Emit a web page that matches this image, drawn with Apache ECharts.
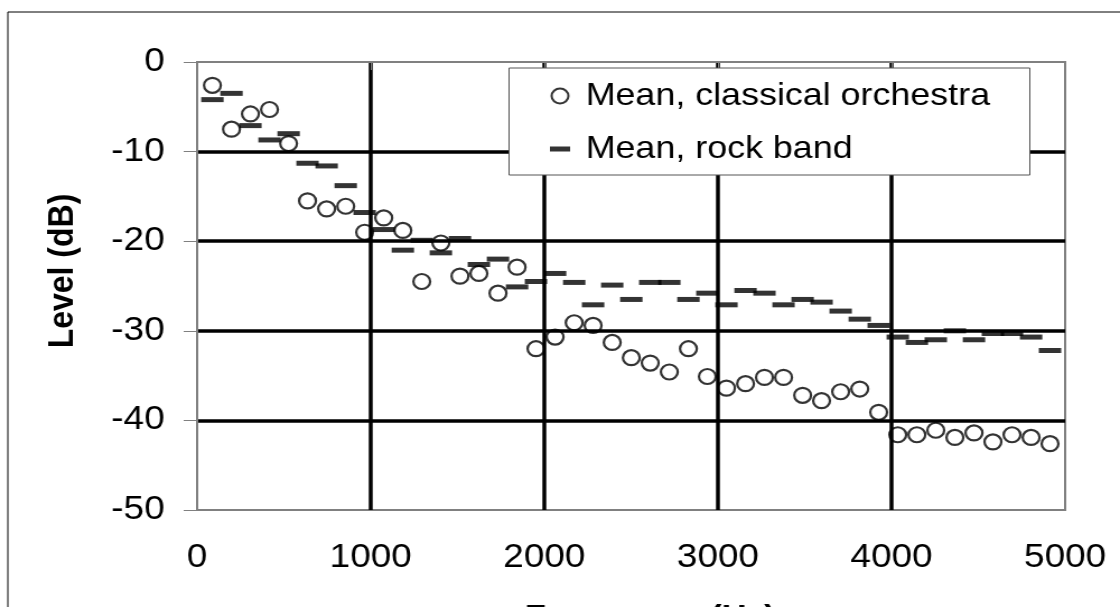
<!DOCTYPE html>
<html>
<head>
<meta charset="utf-8">
<script src="https://cdn.jsdelivr.net/npm/echarts@6/dist/echarts.min.js"></script>
<style>
  html, body { margin: 0; padding: 0; background: #fff; overflow: hidden; }
  /* the reference is stretched sideways, so the chart is drawn narrower and widened */
  #main { width: 1000px; height: 607px; transform: scaleX(1.12); transform-origin: 0 0; }
</style>
</head>
<body>
<div id="main"></div>
<script>
// frequency of each band (Hz)
var freq = [88, 198, 307, 417, 527, 636, 746, 856, 965, 1075,
    1185, 1294, 1404, 1514, 1623, 1733, 1843, 1952, 2062, 2172,
    2281, 2391, 2501, 2610, 2720, 2830, 2939, 3049, 3159, 3268,
    3378, 3488, 3597, 3707, 3817, 3926, 4036, 4146, 4255, 4365,
    4475, 4584, 4694, 4804, 4913];

// mean level, classical orchestra (dB)
var orchestra = [-2.6, -7.5, -5.8, -5.3, -9.1, -15.5, -16.4, -16.1, -19.0, -17.4,
    -18.8, -24.5, -20.2, -23.9, -23.6, -25.8, -22.9, -32.0, -30.7, -29.1,
    -29.4, -31.3, -33.0, -33.6, -34.6, -32.0, -35.1, -36.4, -35.9, -35.2,
    -35.2, -37.2, -37.8, -36.8, -36.5, -39.1, -41.6, -41.6, -41.1, -41.9,
    -41.4, -42.4, -41.6, -41.9, -42.6];

// mean level, rock band (dB)
var rock = [-4.2, -3.5, -7.1, -8.7, -8.0, -11.3, -11.6, -13.8, -16.8, -18.7,
    -21.0, -19.9, -21.3, -19.7, -22.6, -22.0, -25.1, -24.5, -23.6, -24.6,
    -27.1, -24.9, -26.5, -24.6, -24.6, -26.5, -25.8, -27.1, -25.5, -25.8,
    -27.1, -26.5, -26.8, -27.8, -28.7, -29.4, -30.7, -31.3, -31.0, -30.0,
    -31.0, -30.3, -30.3, -30.7, -32.2];

var seriesNames = ['Mean, classical orchestra', 'Mean, rock band'];

var font = "'Liberation Sans', Arial, sans-serif";

var chart = echarts.init(document.getElementById('main'));

var option = {
    animation: false,
    backgroundColor: '#fff',
    grid: {
        left: 176, top: 62, width: 775, height: 448,
        outerBoundsMode: 'none',
        containLabel: false,
        show: true, borderColor: '#808080', borderWidth: 2
    },
    legend: {
        orient: 'vertical',
        left: 491, top: 80,
        padding: 0,
        itemGap: 21,
        itemWidth: 18, itemHeight: 15,
        symbolKeepAspect: true,
        z: 10,
        formatter: ' {name}',
        textStyle: { color: '#000', fontSize: 32, fontFamily: font },
        data: [
            { name: seriesNames[0], icon: 'circle',
              itemStyle: { color: '#fff', borderColor: '#000', borderWidth: 2 } },
            { name: seriesNames[1], icon: 'path://M0,0H18V5H0Z',
              itemStyle: { color: '#000', borderWidth: 0 } }
        ]
    },
    graphic: [
        // outer chart frame
        { type: 'rect', z: 0, silent: true,
          shape: { x: 7, y: 12, width: 1100, height: 700 },
          style: { fill: 'none', stroke: '#000', lineWidth: 1 } },
        // legend box
        { type: 'rect', z: 5, silent: true,
          shape: { x: 454.5, y: 68, width: 465, height: 107 },
          style: { fill: '#fff', stroke: '#555', lineWidth: 1 } }
    ],
    xAxis: {
        type: 'value',
        min: 0, max: 5000, interval: 1000,
        name: 'Frequency (Hz)',
        nameLocation: 'middle',
        nameGap: 93,
        nameTextStyle: { color: '#000', fontSize: 31, fontWeight: 'bold', fontFamily: font, padding: [0, 0, 0, 34] },
        axisLine: { lineStyle: { color: '#808080', width: 2 } },
        axisTick: { length: 8, lineStyle: { color: '#808080', width: 1 } },
        axisLabel: { color: '#000', fontSize: 33, fontFamily: font, margin: 31,
                     formatter: function (v) { return String(v); } },
        splitLine: { show: true, showMinLine: false, showMaxLine: false,
                     lineStyle: { color: '#000', width: 3.5 } }
    },
    yAxis: {
        type: 'value',
        min: -50, max: 0, interval: 10,
        name: 'Level (dB)',
        nameLocation: 'middle',
        nameGap: 104,
        nameTextStyle: { color: '#000', fontSize: 32, fontWeight: 'bold', fontFamily: font, padding: [0, 0, 0, 30] },
        axisLine: { show: true, lineStyle: { color: '#808080', width: 2 } },
        axisTick: { show: true, length: 12, lineStyle: { color: '#808080', width: 1 } },
        axisLabel: { color: '#000', fontSize: 33, fontFamily: font, margin: 29,
                     formatter: function (v) { return String(v); } },
        splitLine: { show: true, showMinLine: false, showMaxLine: false,
                     lineStyle: { color: '#000', width: 3.5 } }
    },
    series: [
        {
            name: seriesNames[1],
            type: 'scatter',
            symbol: 'rect',
            symbolSize: [20, 5],
            itemStyle: { color: '#000' },
            data: freq.map(function (f, i) { return [f, rock[i]]; })
        },
        {
            name: seriesNames[0],
            type: 'scatter',
            symbol: 'circle',
            symbolSize: 15,
            itemStyle: { color: 'transparent', borderColor: '#000', borderWidth: 2.2 },
            data: freq.map(function (f, i) { return [f, orchestra[i]]; })
        }
    ]
};

chart.setOption(option);
</script>
</body>
</html>
